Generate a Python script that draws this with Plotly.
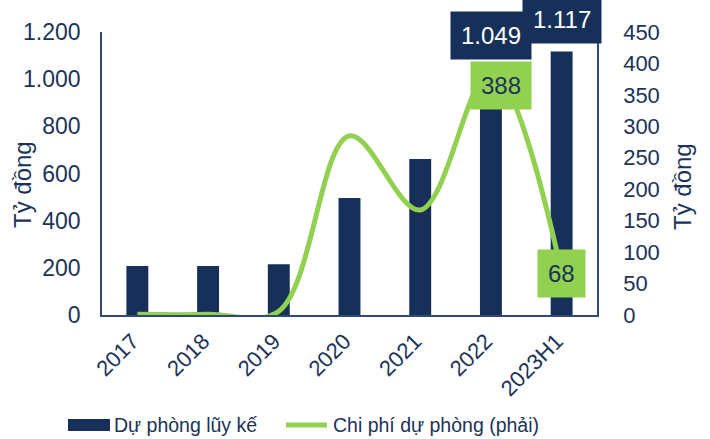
import plotly.graph_objects as go

categories = ["2017", "2018", "2019", "2020", "2021", "2022", "2023H1"]
du_phong_luy_ke = [208, 208, 215, 496, 661, 1049, 1117]
chi_phi_du_phong = [1, 1, 6, 285, 167, 388, 68]
left_ticks = [0, 200, 400, 600, 800, 1000, 1200]
right_ticks = [0, 50, 100, 150, 200, 250, 300, 350, 400, 450]

NAVY = "#17305A"
GREEN = "#92D050"
TEXT = "#1B3358"
FONT = "Liberation Sans, Arial, sans-serif"

W, H = 710, 439
ML, MR, MT, MB = 102, 113, 32, 124
PW, PH = W - ML - MR, H - MT - MB

def px_x(p):
    return (p - ML) / PW

def px_y(p):
    return (H - MB - p) / PH

def fmt(v):
    return f"{v:,}".replace(",", ".")

idx = list(range(len(categories)))

fig = go.Figure()
fig.add_trace(go.Bar(
    x=categories, y=du_phong_luy_ke, name="Dự phòng lũy kế",
    marker=dict(color=NAVY, line=dict(width=0)), width=0.31,
    yaxis="y", showlegend=False,
))
fig.add_trace(go.Scatter(
    x=categories, y=chi_phi_du_phong, name="Chi phí dự phòng (phải)",
    mode="lines", line=dict(color=GREEN, width=5, shape="spline", smoothing=1.0),
    yaxis="y2", showlegend=False,
))

annotations = []
# bar labels for last two bars
for i in (5, 6):
    annotations.append(dict(
        x=idx[i], y=du_phong_luy_ke[i], xref="x", yref="y",
        text=fmt(du_phong_luy_ke[i]), showarrow=False, yanchor="bottom", yshift=8,
        font=dict(family=FONT, size=24, color="white"),
        bgcolor=NAVY, borderpad=10,
    ))
# line labels
annotations.append(dict(
    x=idx[5], y=chi_phi_du_phong[5], xref="x", yref="y2",
    text=fmt(chi_phi_du_phong[5]), showarrow=False, xshift=10, yshift=-15,
    font=dict(family=FONT, size=24, color=TEXT), bgcolor=GREEN, borderpad=10,
))
annotations.append(dict(
    x=idx[6], y=chi_phi_du_phong[6], xref="x", yref="y2",
    text=fmt(chi_phi_du_phong[6]), showarrow=False, yshift=-1,
    font=dict(family=FONT, size=24, color=TEXT), bgcolor=GREEN, borderpad=10,
))
# axis titles
annotations.append(dict(
    x=px_x(22), y=px_y(185), xref="paper", yref="paper", text="Tỷ đồng",
    xanchor="center", yanchor="middle",
    textangle=-90, showarrow=False, font=dict(family=FONT, size=24, color=TEXT),
))
annotations.append(dict(
    x=px_x(682), y=px_y(187), xref="paper", yref="paper", text="Tỷ đồng",
    xanchor="center", yanchor="middle",
    textangle=-90, showarrow=False, font=dict(family=FONT, size=24, color=TEXT),
))
# legend texts
annotations.append(dict(
    x=px_x(112), y=px_y(425), xref="paper", yref="paper", text="Dự phòng lũy kế",
    xanchor="left", yanchor="middle", showarrow=False,
    font=dict(family=FONT, size=19.5, color=TEXT),
))
annotations.append(dict(
    x=px_x(331), y=px_y(425), xref="paper", yref="paper", text="Chi phí dự phòng (phải)",
    xanchor="left", yanchor="middle", showarrow=False,
    font=dict(family=FONT, size=19.5, color=TEXT),
))

shapes = [
    dict(type="rect", xref="paper", yref="paper",
         x0=px_x(68), x1=px_x(110), y0=px_y(431), y1=px_y(419),
         fillcolor=NAVY, line=dict(width=0)),
    dict(type="line", xref="paper", yref="paper",
         x0=px_x(286), x1=px_x(327), y0=px_y(425), y1=px_y(425),
         line=dict(color=GREEN, width=5)),
]

fig.update_layout(
    width=W, height=H, margin=dict(l=ML, r=MR, t=MT, b=MB, autoexpand=False),
    paper_bgcolor="white", plot_bgcolor="white",
    separators=",.",
    font=dict(family=FONT, size=21, color=TEXT),
    xaxis=dict(
        type="category", range=[-0.5, 6.5], tickangle=-45, automargin=False,
        showline=True, linecolor="#2E4A75", linewidth=1.5,
        showgrid=False, ticks="", tickfont=dict(size=22, color=TEXT),
        ticklabelstandoff=3, ticklabelshift=-5,
    ),
    yaxis=dict(
        range=[0, 1200], tickvals=left_ticks, tickformat=",d", automargin=False,
        showline=True, linecolor="#2E4A75", linewidth=1.5,
        showgrid=False, zeroline=False, ticks="", ticklabelstandoff=15,
        tickfont=dict(size=23, color=TEXT),
    ),
    yaxis2=dict(
        range=[0, 450], tickvals=right_ticks, overlaying="y", side="right",
        automargin=False,
        showline=True, linecolor="#2E4A75", linewidth=1.5,
        showgrid=False, zeroline=False, ticks="", ticklabelstandoff=20,
        tickfont=dict(size=22, color=TEXT),
    ),
    bargap=0.69,
    annotations=annotations, shapes=shapes, showlegend=False,
)

fig.write_html(
    "out.html",
    config={"displayModeBar": False},
    post_script="document.body.style.margin='0';document.body.style.padding='0';",
)
